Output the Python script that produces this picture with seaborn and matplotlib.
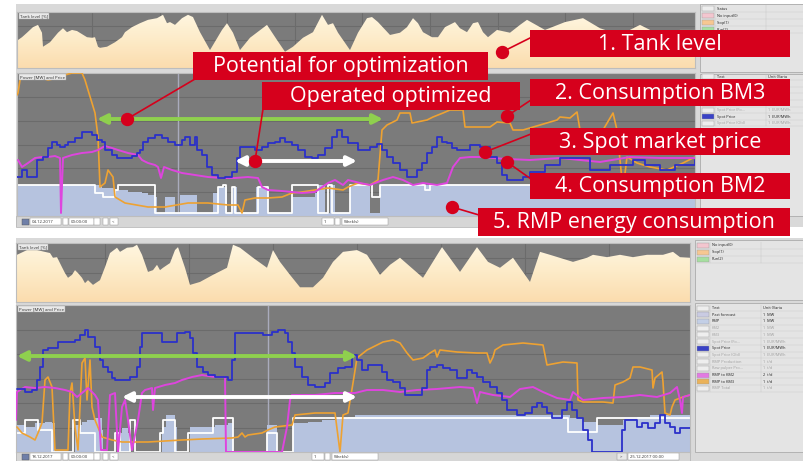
import numpy as np
import pandas as pd
import matplotlib.pyplot as plt
import seaborn as sns
from matplotlib.colors import LinearSegmentedColormap
from matplotlib.patches import Rectangle

sns.set_style("white")
plt.rcParams['font.family'] = ['Open Sans', 'DejaVu Sans']

# ---- week 1 (04.12.2017), (hours, value) ----
tank1 = [(0.25, 50), (1.25, 55), (2.5, 63), (4, 73), (5.25, 77), (6.25, 63), (6.5, 38), (8.25, 46), (10.25, 63),
         (11.5, 71), (12.5, 64), (13.75, 68), (15, 66), (17.5, 55), (18.75, 54), (19.5, 55), (20.25, 38), (20.75, 36),
         (22.5, 38), (24.5, 46), (26.25, 55), (27, 64), (28.75, 73), (30.75, 80), (32.75, 86), (35, 89), (36.5, 95),
         (37.5, 80), (38.25, 82), (39.5, 77), (41.25, 89), (42.75, 95), (44, 91), (45.75, 64), (48.25, 32), (51.25, 68),
         (52.5, 80), (54, 63), (55.75, 32), (58.25, 54), (62.5, 77), (65, 50), (67, 29), (69, 38), (71.5, 54), (74, 64),
         (76.25, 95), (77.75, 77), (79, 80), (80.25, 63), (83.25, 32), (85.25, 63), (87.5, 89), (88.75, 91), (90.25, 82),
         (93.25, 59), (95.75, 63), (97.5, 73), (99, 89), (100.25, 80), (101.5, 64), (103.75, 55), (105.25, 55), (107, 73),
         (109.5, 82), (110.75, 71), (112.5, 64), (114, 80), (115.25, 82), (116.5, 64), (117.75, 55), (120, 68),
         (123.25, 63), (125.75, 77), (127.5, 86), (132, 68), (137, 82), (141.5, 89), (145.75, 71), (150.75, 59),
         (155.75, 77), (160.75, 59), (165.75, 68), (169.5, 68)]
price1 = [(0, 39), (1.25, 46), (2.5, 39), (5, 56), (6.5, 59), (7.75, 68), (8.75, 74), (10, 71), (10.75, 69), (12, 71),
          (12.75, 74), (14.5, 78), (16.25, 84), (17.5, 84), (18.75, 81), (20, 76), (21.25, 74), (22, 66), (23.75, 61),
          (25, 58), (27, 58), (28.75, 60), (30, 63), (30.75, 66), (31.5, 74), (32.75, 78), (34.5, 81), (36.25, 78),
          (37.75, 74), (39.5, 71), (41.25, 76), (42, 79), (43.25, 71), (44.5, 79), (45, 66), (46.25, 61), (47.5, 49),
          (48.75, 41), (50.25, 38), (52, 39), (53.75, 44), (55, 58), (55.75, 69), (57.75, 69), (59.5, 66), (61.25, 69),
          (62.75, 73), (64.5, 74), (65.75, 78), (67, 74), (68.75, 71), (70.25, 66), (72, 59), (73.75, 58), (75.25, 61),
          (77, 68), (78.75, 79), (80, 86), (81.25, 79), (82.75, 73), (85.25, 66), (86.5, 66), (88.25, 69), (90, 72),
          (91.25, 66), (92.5, 59), (94, 53), (95.75, 46), (97.5, 39), (99, 39), (100, 46), (101.25, 53), (102.5, 63),
          (103.75, 69), (105, 79), (106.25, 74), (107.5, 73), (108.75, 68), (110, 66), (113.25, 71), (115.75, 69),
          (118.25, 59), (120, 53), (121.25, 41), (122.5, 36), (125, 36), (126.5, 39), (128.25, 44), (132, 51),
          (135.75, 58), (139.5, 58), (143.25, 46), (148.25, 51), (154, 56), (157, 51), (160.75, 46), (164.5, 51),
          (169.5, 56)]
bm2_1 = [(0.25, 56), (1.25, 49), (2.75, 53), (4.5, 58), (6.25, 59), (7.75, 59), (9.5, 60), (10.75, 58), (11, 3),
         (11.5, 58), (13.75, 61), (16.25, 63), (18.75, 64), (20.25, 66), (22, 70), (23.75, 68), (25.25, 66), (27.75, 63),
         (30.25, 61), (31.25, 56), (32.75, 53), (34.5, 51), (35.25, 49), (36, 38), (36.75, 49), (38.75, 46), (41.25, 43),
         (44.5, 41), (47.75, 39), (51.25, 38), (54.5, 38), (57.75, 39), (60.25, 38), (61.25, 29), (62.75, 26),
         (66.25, 25), (71.25, 23), (74.5, 24), (77.75, 33), (79.5, 36), (81.5, 31), (82.75, 36), (85.75, 33),
         (88.25, 31), (91.5, 36), (94, 39), (96.5, 36), (99, 31), (101.5, 33), (105, 31), (107.5, 33), (109, 49),
         (110.75, 58), (113.25, 59), (116.5, 59), (119, 58), (122.5, 57), (128.25, 56), (135.75, 58), (145.75, 54),
         (153.25, 59), (160.75, 58), (169.5, 58)]
bm3_1 = [(0, 121), (0.25, 123), (0.75, 136), (2, 141), (4.5, 141), (6.25, 138), (7.75, 136), (10.25, 138), (12, 141),
         (13.75, 143), (16.25, 143), (17, 136), (17.75, 126), (18.75, 113), (19.5, 103), (20.25, 79), (20.75, 29),
         (22, 33), (22.75, 46), (24, 39), (24.5, 19), (27, 13), (32.75, 9), (37, 9), (42.75, 13), (47.75, 13),
         (52.75, 11), (55.25, 11), (56.25, 3), (57, 16), (59.5, 18), (62.75, 18), (66.25, 19), (68.75, 23), (71.25, 24),
         (74.5, 26), (77.75, 28), (81.5, 26), (82.75, 29), (85.25, 33), (88.25, 31), (90.25, 36), (91.25, 86),
         (92.5, 91), (95, 96), (95.75, 103), (98.25, 103), (98.75, 93), (102.5, 96), (104, 99), (106.5, 103),
         (108.25, 106), (111.5, 106), (112, 89), (118.25, 89), (120, 94), (123.25, 93), (124, 86), (126.5, 86),
         (135, 96), (135.75, 99), (138.25, 98), (140, 104), (140.75, 86), (146.5, 86), (149, 103), (150, 86),
         (151.5, 26), (152.5, 59), (155, 53), (158.25, 49), (162.5, 46), (166.5, 53), (169.5, 59)]
rmp1 = [(0, 31), (18.75, 31), (21.25, 28), (24.5, 26), (27.75, 24), (31.25, 23), (32.75, 21), (34.5, 19), (35, 3),
        (37, 19), (39.5, 3), (40.75, 21), (45, 3), (49, 23), (50.25, 29), (52.5, 3), (54, 29), (55, 3), (59.75, 29),
        (62.75, 3), (68.75, 19), (74.5, 23), (75, 31), (77, 3), (78.25, 31), (79.5, 3), (83.25, 31), (88.25, 3),
        (90.75, 31), (169.5, 31)]
fcst1 = [(0, 31), (19.5, 23), (21.5, 19), (24.5, 26), (25.25, 31), (34.5, 3), (50.25, 29), (51.5, 31), (52.25, 3),
         (53.75, 29), (54.5, 3), (60.25, 29), (62.75, 3), (68.75, 31), (75.25, 3), (77.75, 31), (78.75, 3), (83.25, 31),
         (88.75, 19), (90.75, 31), (102, 26), (103.25, 31), (169.5, 31)]

# ---- week 2 (18.12.2017) ----
tank2 = [(0.25, 80), (2.75, 88), (5.25, 88), (8.5, 83), (9.25, 75), (10.25, 76), (11.5, 59), (12.25, 49), (13, 41),
         (14, 46), (14.75, 54), (15.5, 49), (16.5, 41), (17.25, 32), (18, 37), (19.25, 29), (21, 37), (22.25, 59),
         (23.5, 83), (25.25, 92), (26, 85), (27.75, 92), (29.25, 93), (30.25, 97), (31.5, 80), (33, 51), (34.25, 54),
         (35.25, 63), (36, 54), (36.75, 58), (38.5, 66), (39.75, 88), (40.5, 93), (42.25, 58), (43.5, 29), (46, 34),
         (49.25, 46), (52.75, 58), (54.25, 97), (56, 92), (59.25, 75), (62.75, 58), (64.25, 88), (66, 68), (68.5, 46),
         (71, 25), (74.25, 25), (76.75, 41), (79.25, 68), (81.75, 85), (85.25, 88), (87.75, 80), (91, 46), (93.5, 63),
         (96, 75), (101.75, 41), (106.5, 93), (111, 51), (115.25, 93), (118, 68), (121, 58), (124.25, 75), (128.5, 34),
         (131, 85), (133.5, 80), (139.25, 68), (142.75, 75), (144.25, 80), (147.75, 76), (151, 80), (154.25, 76),
         (157.75, 80), (161.75, 80), (164.25, 85), (166, 76), (168.5, 75)]
price2 = [(0.25, 63), (2.25, 60), (4, 62), (5.25, 72), (6, 85), (6.75, 102), (8, 104), (10.5, 110), (12.75, 110),
          (14.75, 112), (16, 117), (17.25, 122), (18, 115), (19.75, 105), (21, 92), (21.75, 85), (23, 80), (24, 74),
          (24.75, 72), (26.5, 72), (28.5, 75), (30.25, 85), (31, 105), (31.5, 119), (34, 119), (36.5, 110), (39, 110),
          (40.25, 119), (42.25, 120), (43.5, 114), (44.25, 99), (45.25, 85), (46.75, 80), (48, 77), (49.75, 75),
          (51.5, 75), (53, 72), (54, 92), (54.75, 119), (58, 119), (61.75, 117), (64, 120), (65.5, 122), (67.25, 119),
          (68, 110), (69, 99), (69.75, 85), (71.5, 75), (73, 67), (74.75, 65), (77.25, 69), (78.5, 79), (80.5, 84),
          (82.25, 85), (84, 97), (85.25, 92), (86.5, 82), (88, 87), (90.25, 87), (91.5, 80), (92.75, 72), (94.25, 70),
          (96, 64), (97.25, 57), (100.25, 57), (101.5, 64), (102.75, 82), (103.5, 85), (105.25, 87), (106.75, 84),
          (108.5, 82), (110.25, 74), (112.75, 82), (114, 79), (115.25, 75), (116.75, 70), (118.5, 65), (120.25, 59),
          (121.5, 52), (122.75, 42), (125.25, 37), (127.25, 39), (129, 45), (130.25, 49), (131.5, 45), (132.75, 39),
          (134, 34), (135.25, 34), (136.5, 42), (137.75, 50), (139, 42), (140.25, 34), (141.75, 22), (143, 12),
          (144, 0), (150.5, 0), (151.5, 22), (152.25, 32), (154.25, 32), (155.25, 25), (156.5, 29), (158, 24),
          (159.75, 29), (161, 37), (162.25, 29), (163.5, 25), (164.75, 19), (166, 24), (168.5, 24)]
bm2_2 = [(0, 32), (0.25, 60), (2.25, 65), (4.75, 64), (7.25, 65), (9.75, 64), (12.25, 62), (14, 60), (15.25, 55),
         (16.5, 59), (18, 64), (19.75, 57), (20.5, 52), (21.25, 2), (22.75, 2), (23.5, 57), (24.75, 59), (25.5, 0),
         (26.5, 45), (27.25, 52), (28, 32), (29, 2), (30.5, 32), (31.5, 59), (32.25, 62), (34, 64), (34.25, 42),
         (34.75, 64), (37.25, 67), (39.75, 69), (41.5, 72), (44, 75), (46.5, 77), (49.75, 75), (52.25, 75), (52.5, 0),
         (66.5, 0), (67.75, 25), (68.5, 52), (69, 57), (74.75, 57), (79.75, 59), (84.75, 59), (87.75, 62), (91.75, 62),
         (96, 60), (100.25, 62), (105.25, 63), (111, 65), (114.25, 64), (115.25, 49), (116, 60), (119.25, 57),
         (123.5, 55), (126, 63), (129.25, 65), (131.75, 60), (135.25, 54), (138.5, 52), (139.25, 60), (141.75, 52),
         (146.75, 54), (151.75, 55), (156, 57), (160.25, 55), (163.5, 59), (165.25, 65), (166, 52), (166.5, 39),
         (166.75, 55), (168.5, 57)]
bm3_2 = [(0.25, 25), (1.5, 19), (3.5, 15), (4.75, 12), (5.5, 19), (6.5, 29), (7.25, 72), (8, 75), (9, 65), (9.75, 2),
         (13, 2), (13.5, 59), (14, 69), (14.75, 25), (15.5, 2), (16.5, 89), (17.25, 94), (17.75, 52), (18.5, 92),
         (19, 45), (19.75, 32), (21.5, 15), (24, 12), (26.5, 10), (33, 10), (41.5, 12), (46.5, 13), (54, 14),
         (55.5, 15), (56.5, 19), (57.25, 15), (58, 17), (61.5, 19), (63, 22), (64.75, 25), (69, 27), (69.75, 37),
         (74.75, 39), (79.75, 39), (81, 0), (81.75, 37), (83, 39), (84.25, 69), (85.25, 94), (87.75, 102), (90.25, 107),
         (91.75, 110), (94.25, 112), (96, 109), (97.75, 99), (99.25, 92), (101.75, 94), (103.5, 99), (104.75, 102),
         (105.25, 95), (106, 102), (110.25, 100), (115.25, 99), (117.75, 99), (118.5, 89), (119.25, 95), (119.75, 102),
         (121.75, 107), (126.75, 109), (131.75, 107), (132.75, 87), (136.75, 90), (140.25, 89), (140.5, 52),
         (141.75, 50), (146.75, 50), (149.25, 49), (149.75, 67), (151.75, 70), (153.5, 74), (154.25, 85), (156, 85),
         (159, 82), (159.25, 64), (159.75, 74), (161.5, 80), (161.75, 70), (162.25, 39), (163.5, 37), (164, 45),
         (164.75, 52), (166.75, 55), (168.5, 57)]
rmp2 = [(0, 27), (2.25, 25), (4.75, 29), (7.25, 30), (9, 29), (9.75, 0), (14.75, 27), (16.5, 30), (17.75, 32),
        (19.75, 34), (21.5, 22), (21.75, 0), (25.25, 19), (26.5, 24), (28, 19), (28.5, 0), (36.5, 25), (37.5, 37),
        (39, 37), (39.75, 25), (40.25, 0), (43.5, 25), (49.75, 27), (53, 29), (54.25, 0), (62.75, 27), (65.25, 0),
        (69.25, 29), (73, 30), (76.5, 32), (79.75, 34), (83, 35), (84.75, 37), (133.5, 37), (138.5, 34), (141.75, 30),
        (145.25, 27), (148.5, 27), (151.75, 32), (155.25, 35), (158.5, 37), (168.5, 35)]
fcst2 = [(0, 19), (2.25, 32), (5.5, 22), (9, 0), (14.25, 32), (16, 19), (19.75, 0), (24.75, 19), (26, 0), (28.5, 32),
         (29.75, 0), (36, 19), (36.75, 32), (39.75, 0), (43, 19), (49.25, 34), (54.25, 0), (62.75, 19), (65.25, 0),
         (69.25, 34), (138, 20), (145.25, 34), (168.5, 34)]

W, H = 804, 461
GRAY = '#7b7b7b'
GRID = '#6b6b6b'
BLUE = '#2b30c9'
MAGENTA = '#de45de'
ORANGE = '#eea232'
RMP_C = '#b6c3df'
RED = '#d6001c'
FRAME = '#d9d9d9'
tank_cmap = LinearSegmentedColormap.from_list('tank', ['#fbdcae', '#fdebc8', '#fff7e2'])

fig = plt.figure(figsize=(W / 100, H / 100), dpi=100)


def add_ax(x0, y0, x1, y1, **kw):
    return fig.add_axes([x0 / W, 1 - y1 / H, (x1 - x0) / W, (y1 - y0) / H], **kw)


bg = add_ax(0, 0, W, H, zorder=-5)
bg.set_xlim(0, W)
bg.set_ylim(H, 0)
bg.axis('off')


def tank_panel(ax, data, span, vgrid):
    df = pd.DataFrame(data, columns=['h', 'pct'])
    ax.set_facecolor(GRAY)
    poly = ax.fill_between(df.h, df.pct, 0, color='none', lw=0)
    im = ax.imshow(np.linspace(0, 1, 200).reshape(-1, 1), extent=[0, span, 0, 100], origin='lower',
                   aspect='auto', cmap=tank_cmap, zorder=2)
    im.set_clip_path(poly.get_paths()[0], transform=ax.transData)
    ax.set_xlim(0, span)
    ax.set_ylim(0, 100)
    ax.set_xticks(vgrid)
    ax.set_yticks([25, 50, 75])
    ax.grid(True, color=GRID, lw=0.8)
    ax.tick_params(length=0, labelbottom=False, labelleft=False)
    for s in ax.spines.values():
        s.set_color('#bdbdbd')
    ax.text(0.004, 0.96, 'Tank level [%]', transform=ax.transAxes, fontsize=3.2, va='top', color='#333333',
            bbox=dict(fc='#e9e9e9', ec='#a8a8a8', lw=0.3, pad=0.8), zorder=5)


def power_panel(ax, span, top, price, bm2, bm3, rmp, fcst, vline):
    ax.set_facecolor(GRAY)
    r = pd.DataFrame(rmp, columns=['h', 'v'])
    ax.fill_between(r.h, r.v, 0, step='post', color=RMP_C, lw=0, zorder=1)
    for data, color, lw, step, z in [(fcst, 'white', 1.3, True, 2), (bm3, ORANGE, 1.2, False, 3),
                                     (bm2, MAGENTA, 1.4, False, 4), (price, BLUE, 1.3, True, 5)]:
        d = pd.DataFrame(data, columns=['h', 'v'])
        sns.lineplot(data=d, x='h', y='v', ax=ax, color=color, linewidth=lw, estimator=None, sort=False,
                     drawstyle='steps-post' if step else 'default', zorder=z)
    ax.axvline(vline, color='#a9abbc', lw=1, zorder=0.8)
    ax.set_xlim(0, span)
    ax.set_ylim(0, top)
    ax.set_yticks(np.linspace(0, top, 7)[1:-1])
    ax.set_xticks([])
    ax.grid(axis='y', color=GRID, lw=0.8)
    ax.tick_params(length=0, labelbottom=False, labelleft=False)
    ax.set_xlabel('')
    ax.set_ylabel('')
    for s in ax.spines.values():
        s.set_color('#bdbdbd')
    ax.text(0.004, 0.985, 'Power [MW] and Price', transform=ax.transAxes, fontsize=3.2, va='top', color='#333333',
            bbox=dict(fc='#e9e9e9', ec='#a8a8a8', lw=0.3, pad=0.8), zorder=6)


def arrow(ax, x0, x1, y, color):
    ax.annotate('', xy=(x1, y), xytext=(x0, y), zorder=8,
                arrowprops=dict(arrowstyle='<|-|>', color=color, lw=2.8, mutation_scale=14, shrinkA=0, shrinkB=0))


def legend_panel(x0, y0, x1, y1, rows, ry, dy, hidden=()):
    bg.add_patch(Rectangle((x0, y0), x1 - x0, y1 - y0, fc='#e4e4e4', ec='#ababab', lw=0.6))
    for i, (label, unit, sw, on) in enumerate(rows):
        y = ry + i * dy
        bg.add_patch(Rectangle((x0 + 2, y - 2.5), 12, 5, fc=sw, ec='#9a9a9a', lw=0.3))
        bg.plot([x0 + 1, x1], [y + dy / 2] * 2, color='#cacaca', lw=0.3)
        if i in hidden:  # rows covered by a call-out box
            continue
        bg.text(x0 + 17, y, label, fontsize=2.8, va='center', color='#222222' if on else '#a0a0a0')
        bg.text(x0 + 68, y, unit, fontsize=2.8, va='center', color='#222222' if on else '#a0a0a0')
    bg.plot([x0 + 15, x0 + 15], [ry - dy / 2, ry + (len(rows) - 0.5) * dy], color='#c4c4c4', lw=0.3)
    bg.plot([x0 + 66, x0 + 66], [ry - dy / 2, ry + (len(rows) - 0.5) * dy], color='#c4c4c4', lw=0.3)


def toolbar(x0, x1, y0, y1, date, num_x, end_label=None):
    bg.add_patch(Rectangle((x0, y0), x1 - x0, y1 - y0, fc='#d6d6d6', ec='#b3b3b3', lw=0.5))
    yc = (y0 + y1) / 2
    bg.add_patch(Rectangle((x0 + 6, yc - 3), 7, 6, fc='#6f7fa8', ec='#555555', lw=0.3))
    for bx0, bx1, txt in [(x0 + 14, x0 + 45, date), (x0 + 47, x0 + 52, ''), (x0 + 53, x0 + 78, '00:00:00'),
                          (x0 + 78, x0 + 84, ''), (x0 + 87, x0 + 92, ''), (x0 + 94, x0 + 102, '<'),
                          (num_x, num_x + 12, '1'), (num_x + 13, num_x + 18, ''), (num_x + 20, num_x + 66, 'Week(s)')]:
        bg.add_patch(Rectangle((bx0, yc - 3.5), bx1 - bx0, 7, fc='white', ec='#8c8c8c', lw=0.3))
        bg.text(bx0 + 1.5, yc, txt, fontsize=3.1, va='center', color='#333333')
    if end_label:
        bg.add_patch(Rectangle((x1 - 73, yc - 3.5), 10, 7, fc='#e8e8e8', ec='#8c8c8c', lw=0.3))
        bg.text(x1 - 70, yc, '>', fontsize=3.1, va='center', color='#333333')
        bg.add_patch(Rectangle((x1 - 62, yc - 3.5), 51, 7, fc='white', ec='#8c8c8c', lw=0.3))
        bg.text(x1 - 60, yc, end_label, fontsize=3.1, va='center', color='#333333')


# frames of the two screenshots
bg.add_patch(Rectangle((16, 4), 788, 223, fc=FRAME, ec='none'))
bg.add_patch(Rectangle((16, 238), 788, 223, fc=FRAME, ec='none'))

status_rows = [('Status', '', '#eeeeee', True), ('No input(0)', '', '#f3c6cf', True),
               ('Stop(1)', '', '#f7c791', True), ('Run(2)', '', '#a6dfa0', True)]
legend_panel(700, 4, 804, 72, status_rows, 9, 7)
top_rows = [('Text', 'Unit (Varia', '#eeeeee', True), ('Past forecast', '1  MW', '#c9cbe2', True),
            ('RMP', '1  MW', '#c3cfe6', True), ('KM2', '1  MW', '#eeeeee', False), ('KM3', '1  MW', '#eeeeee', False),
            ('Spot Price (Fo...', '1  EUR/MWh', '#eeeeee', False), ('Spot Price', '1  EUR/MWh', '#3a42c6', True),
            ('Spot Price (Old)', '1  EUR/MWh', '#eeeeee', False)]
legend_panel(700, 74, 804, 216, top_rows, 77, 6.6, hidden=(1, 2, 3, 4))

legend_panel(695, 240, 804, 300, status_rows[1:], 245, 7)
bottom_rows = [('Text', 'Unit (Varia', '#eeeeee', True), ('Past forecast', '1  MW', '#c9cbe2', True),
               ('RMP', '1  MW', '#c3cfe6', True), ('KM2', '1  MW', '#eeeeee', False),
               ('KM3', '1  MW', '#eeeeee', False), ('Spot Price (Fo...', '1  EUR/MWh', '#eeeeee', False),
               ('Spot Price', '1  EUR/MWh', '#3a42c6', True), ('Spot Price (Old)', '1  EUR/MWh', '#eeeeee', False),
               ('RMP Production', '1  t/d', '#eeeeee', False), ('Raw pulper Pro...', '1  t/d', '#eeeeee', False),
               ('RMP to KM2', '2  t/d', '#e27ae2', True), ('RMP to KM3', '1  t/d', '#eab25a', True),
               ('RMP Total', '1  t/d', '#eeeeee', False)]
legend_panel(695, 303, 804, 452, bottom_rows, 308, 6.7)

toolbar(16, 695, 216, 227, '04.12.2017', 322)
toolbar(16, 690, 452, 461, '18.12.2017', 312, '25.12.2017 00:00')

# week 1 panels
t1 = add_ax(17, 12, 695, 68)
tank_panel(t1, tank1, 169.5, np.arange(18.75, 169, 16.9))
p1 = add_ax(17, 73, 695, 216)
power_panel(p1, 169.5, 143, price1, bm2_1, bm3_1, rmp1, fcst1, 40.25)
arrow(p1, 20, 91.5, 97, '#8fd04e')
arrow(p1, 54.5, 85, 55, 'white')

# week 2 panels
t2 = add_ax(16, 243, 690, 302)
tank_panel(t2, tank2, 168.5, np.arange(22.25, 168, 21))
p2 = add_ax(16, 305, 690, 452)
power_panel(p2, 168.5, 147, price2, bm2_2, bm3_2, rmp2, fcst2, 63)
arrow(p2, 0.25, 85.25, 96, '#8fd04e')
arrow(p2, 26.5, 85.25, 55, 'white')

# call-out boxes
ov = add_ax(0, 0, W, H, zorder=20)
ov.set_xlim(0, W)
ov.set_ylim(H, 0)
ov.axis('off')
callouts = [('1. Tank level', (530, 30, 790, 57), (502, 52), (532, 37)),
            ('Potential for optimization', (193, 52, 488, 80), (127, 119), (195, 79)),
            ('Operated optimized', (262, 82, 520, 110), (255, 161), (263, 109)),
            ('2. Consumption BM3', (530, 79, 790, 106), (507, 116), (531, 100)),
            ('3. Spot market price', (530, 128, 790, 155), (485, 152), (531, 134)),
            ('4. Consumption BM2', (530, 173, 790, 199), (507, 162), (531, 179)),
            ('5. RMP energy consumption', (478, 208, 790, 236), (452, 207), (479, 215))]
for label, (x0, y0, x1, y1), dot, end in callouts:
    ov.plot([dot[0], end[0]], [dot[1], end[1]], color=RED, lw=1.2, zorder=1)
    ov.plot(*dot, 'o', ms=8.6, color=RED, zorder=2)
    ov.add_patch(Rectangle((x0, y0), x1 - x0, y1 - y0, fc=RED, ec='none', zorder=3))
    ov.text((x0 + x1) / 2, (y0 + y1) / 2 + 0.5, label, color='white', fontsize=15.5, ha='center', va='center',
            zorder=4)

fig.savefig('out.png', dpi=100)
